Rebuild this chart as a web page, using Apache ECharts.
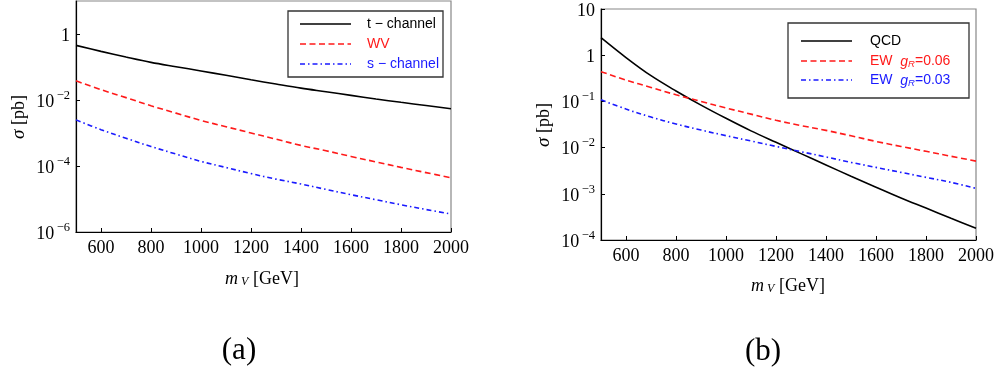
<!DOCTYPE html>
<html>
<head>
<meta charset="utf-8">
<script src="https://cdn.jsdelivr.net/npm/echarts@6/dist/echarts.min.js"></script>
<style>html,body{margin:0;padding:0;background:#fff}#c{width:997px;height:371px}</style>
</head>
<body>
<div id="c"></div>
<script>
// ---- data ----
const mV = [500,600,700,800,900,1000,1100,1200,1300,1400,1500,1600,1700,1800,1900,2000];
// panel (a)
const tChannel = [0.452,0.297,0.200,0.138,0.102,0.076,0.056,0.041,0.0305,0.0229,0.0178,0.0138,0.0107,0.0085,0.0068,0.0054];
const wv       = [0.038,0.0205,0.0118,0.0067,0.0040,0.0024,0.00155,0.0010,0.00065,0.00042,0.00029,0.000195,0.000133,0.000091,0.000063,0.000044];
const sChannel = [2.5e-3,1.26e-3,6.9e-4,3.9e-4,2.3e-4,1.38e-4,9.0e-5,5.9e-5,4.0e-5,2.85e-5,1.95e-5,1.35e-5,9.5e-6,6.7e-6,4.8e-6,3.5e-6];
// panel (b)
const qcd  = [2.4,0.89,0.36,0.168,0.083,0.043,0.023,0.0130,0.0074,0.0042,0.0024,0.00139,0.00081,0.00049,0.000295,0.00018];
const ew06 = [0.44,0.29,0.20,0.139,0.100,0.072,0.053,0.039,0.030,0.0236,0.018,0.0136,0.0106,0.0083,0.0065,0.0051];
const ew03 = [0.108,0.0682,0.0458,0.0324,0.024,0.0181,0.0139,0.0106,0.00815,0.00627,0.00479,0.00373,0.00291,0.00227,0.00177,0.00131];
// ticks
const xTicks = [600,800,1000,1200,1400,1600,1800,2000];
const yTicksA = [1e-6,1e-4,1e-2,1];
const yTicksB = [1e-4,1e-3,1e-2,1e-1,1,10];
const legendA = ['t − channel','WV','s − channel'];
const legendB = ['QCD','EW  {i|g}{sub|R}=0.06','EW  {i|g}{sub|R}=0.03'];

const SERIF = 'Liberation Serif';
const SANS = 'Liberation Sans';
const pairs = ys => mV.map((x,i)=>[x,ys[i]]);

function powLabel(v){
  const e = Math.round(Math.log10(v));
  if (e === 0) return '{b|1}';
  if (e === 1) return '{b|10}';
  return '{b|10}{s|\u2009−' + (-e) + '}';
}
const richPow = {
  b:{fontFamily:SERIF,fontSize:18,lineHeight:22,verticalAlign:'bottom',color:'#000'},
  s:{fontFamily:SERIF,fontSize:12.5,lineHeight:12,verticalAlign:'top',color:'#000'}
};

function xAxis(g){
  return {type:'value',gridIndex:g,min:500,max:2000,
    axisLine:{show:true,onZero:false,lineStyle:{color:'#000',width:1.2}},
    axisTick:{show:true,inside:true,length:4,customValues:xTicks,lineStyle:{color:'#000',width:1}},
    axisLabel:{customValues:xTicks,formatter:v=>String(v),fontFamily:SERIF,fontSize:18,color:'#000',margin:7},
    splitLine:{show:false}};
}
function yAxis(g,min,max,ticks){
  return {type:'log',logBase:10,gridIndex:g,min:min,max:max,
    axisLine:{show:true,onZero:false,lineStyle:{color:'#000',width:1.2}},
    axisTick:{show:true,inside:true,length:4,customValues:ticks,lineStyle:{color:'#000',width:1}},
    axisLabel:{customValues:ticks,formatter:powLabel,rich:richPow,margin:6},
    splitLine:{show:false},minorTick:{show:false}};
}
function line(name,ys,xi,color,type){
  return {name:name,type:'line',xAxisIndex:xi,yAxisIndex:xi,data:pairs(ys),
    showSymbol:false,symbol:'none',smooth:0.35,silent:true,animation:false,
    lineStyle:{color:color,width:1.6,type:type}};
}
const RED='#ff1a1a', BLUE='#1a1aff';
const DASH=[6,3.5], DASHDOT=[5,3,1.5,3];

function legendGraphics(x0,y0,w,h,lx1,lx2,tx,rows,names,colors,types){
  const els=[{type:'rect',shape:{x:x0,y:y0,width:w,height:h},style:{fill:'#fff',stroke:'#333',lineWidth:1.3},z:100}];
  names.forEach((n,i)=>{
    els.push({type:'line',shape:{x1:lx1,y1:rows[i],x2:lx2,y2:rows[i]},
      style:{stroke:colors[i],lineWidth:1.6,lineDash:types[i]==='solid'?null:types[i]},z:101});
    els.push({type:'text',x:tx,y:rows[i],z:101,style:{text:n,fill:colors[i],font:'14px '+SANS,
      verticalAlign:'middle',align:'left',
      rich:{i:{fontFamily:SANS,fontSize:14,fontStyle:'italic',fill:colors[i],verticalAlign:'bottom',lineHeight:17},
            sub:{fontFamily:SANS,fontSize:9.5,fontStyle:'italic',fill:colors[i],verticalAlign:'bottom',lineHeight:12}}}});
  });
  return els;
}
function xName(cx,cy){
  return {type:'text',x:cx,y:cy,style:{text:'{m|m}{v| V}{g| [GeV]}',align:'center',verticalAlign:'middle',
    rich:{m:{fontFamily:SERIF,fontSize:18,fontStyle:'italic',fill:'#000',verticalAlign:'bottom',lineHeight:22},
          v:{fontFamily:SERIF,fontSize:12,fontStyle:'italic',fill:'#000',verticalAlign:'bottom',lineHeight:17},
          g:{fontFamily:SERIF,fontSize:18,fill:'#000',verticalAlign:'bottom',lineHeight:22}}}};
}
function yName(cx,cy){
  return {type:'text',x:cx,y:cy,rotation:Math.PI/2,style:{text:'{s|σ}{p| [pb]}',align:'center',verticalAlign:'middle',
    rich:{s:{fontFamily:SERIF,fontSize:19,fontStyle:'italic',fill:'#000'},p:{fontFamily:SERIF,fontSize:18,fill:'#000'}}}};
}

const chart = echarts.init(document.getElementById('c'),null,{renderer:'canvas'});
chart.setOption({
  animation:false,
  backgroundColor:'#fff',
  grid:[
    {left:76,top:1,width:375,height:231,show:true,borderColor:'#888',borderWidth:1.2,backgroundColor:'transparent'},
    {left:601,top:9,width:375,height:231,show:true,borderColor:'#888',borderWidth:1.2,backgroundColor:'transparent'}
  ],
  xAxis:[xAxis(0),xAxis(1)],
  yAxis:[yAxis(0,1e-6,10,yTicksA),yAxis(1,1e-4,10,yTicksB)],
  series:[
    line(legendA[0],tChannel,0,'#000','solid'),
    line(legendA[1],wv,0,RED,DASH),
    line(legendA[2],sChannel,0,BLUE,DASHDOT),
    line('QCD',qcd,1,'#000','solid'),
    line('EW 0.06',ew06,1,RED,DASH),
    line('EW 0.03',ew03,1,BLUE,DASHDOT)
  ],
  graphic:[].concat(
    legendGraphics(288,11,155,66,300,351,367,[24,44,64],legendA,['#000',RED,BLUE],['solid',DASH,DASHDOT]),
    legendGraphics(788,23,181,75,801,852,870,[41,61,80],legendB,['#000',RED,BLUE],['solid',DASH,DASHDOT]),
    [xName(262,277),xName(788,284),yName(19,117),yName(544,125),
     {type:'text',x:239,y:351,style:{text:'(a)',font:'31px '+SERIF,fill:'#000',align:'center',verticalAlign:'middle'}},
     {type:'text',x:763,y:352,style:{text:'(b)',font:'31px '+SERIF,fill:'#000',align:'center',verticalAlign:'middle'}}]
  )
});
</script>
</body>
</html>
